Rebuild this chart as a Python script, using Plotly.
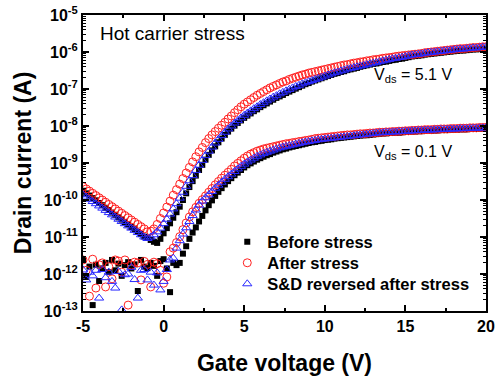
import numpy as np
import plotly.graph_objects as go

# Gate voltage sweep (V)
vg = np.round(np.arange(-5, 20.0001, 0.2), 1)

# log10 of drain current (A), Vds = 5.1 V
before_hi = [
    -9.75, -9.82, -9.88, -9.95, -10.01, -10.08, -10.14, -10.21, -10.27, -10.34,
    -10.40, -10.47, -10.53, -10.60, -10.66, -10.73, -10.79, -10.86, -10.92, -10.99,
    -11.02, -11.08, -11.13, -11.16, -11.05, -10.90, -10.76, -10.63, -10.48, -10.33,
    -10.18, -10.00, -9.82, -9.65, -9.49, -9.34, -9.19, -9.05, -8.91, -8.78,
    -8.66, -8.55, -8.44, -8.34, -8.24, -8.15, -8.07, -7.99, -7.92, -7.85,
    -7.78, -7.72, -7.66, -7.60, -7.55, -7.49, -7.44, -7.39, -7.34, -7.29,
    -7.24, -7.20, -7.16, -7.11, -7.07, -7.03, -6.99, -6.95, -6.91, -6.87,
    -6.84, -6.80, -6.77, -6.74, -6.71, -6.68, -6.65, -6.62, -6.59, -6.57,
    -6.54, -6.52, -6.49, -6.47, -6.45, -6.43, -6.40, -6.38, -6.36, -6.34,
    -6.32, -6.31, -6.29, -6.27, -6.26, -6.24, -6.22, -6.21, -6.19, -6.18,
    -6.16, -6.14, -6.12, -6.11, -6.10, -6.09, -6.07, -6.06, -6.05, -6.04,
    -6.03, -6.02, -6.01, -6.00, -5.99, -5.98, -5.97, -5.96, -5.96, -5.95,
    -5.94, -5.93, -5.93, -5.92, -5.91, -5.91]
after_hi = [
    -9.64, -9.70, -9.76, -9.82, -9.88, -9.94, -10.00, -10.06, -10.12, -10.18,
    -10.24, -10.30, -10.36, -10.42, -10.48, -10.54, -10.60, -10.66, -10.72, -10.78,
    -10.86, -10.84, -10.78, -10.66, -10.50, -10.35, -10.19, -10.03, -9.87, -9.72,
    -9.57, -9.42, -9.27, -9.12, -8.97, -8.83, -8.70, -8.58, -8.45, -8.34,
    -8.24, -8.15, -8.06, -7.98, -7.90, -7.81, -7.73, -7.64, -7.56, -7.48,
    -7.41, -7.35, -7.29, -7.23, -7.17, -7.12, -7.07, -7.02, -6.97, -6.93,
    -6.89, -6.85, -6.81, -6.78, -6.74, -6.71, -6.68, -6.65, -6.62, -6.60,
    -6.57, -6.55, -6.53, -6.51, -6.49, -6.47, -6.45, -6.43, -6.41, -6.39,
    -6.37, -6.35, -6.34, -6.32, -6.30, -6.29, -6.27, -6.26, -6.24, -6.23,
    -6.21, -6.20, -6.19, -6.17, -6.16, -6.15, -6.14, -6.12, -6.11, -6.10,
    -6.09, -6.08, -6.07, -6.06, -6.05, -6.04, -6.02, -6.01, -6.00, -5.99,
    -5.98, -5.97, -5.96, -5.95, -5.94, -5.93, -5.92, -5.91, -5.91, -5.90,
    -5.89, -5.88, -5.88, -5.87, -5.86, -5.86]
reversed_hi = [
    -9.86, -9.92, -9.98, -10.04, -10.10, -10.16, -10.22, -10.28, -10.34, -10.40,
    -10.46, -10.52, -10.58, -10.64, -10.70, -10.76, -10.82, -10.88, -10.94, -11.00,
    -11.04, -11.00, -10.94, -10.86, -10.76, -10.64, -10.52, -10.38, -10.24, -10.10,
    -9.95, -9.79, -9.63, -9.48, -9.34, -9.20, -9.06, -8.93, -8.80, -8.68,
    -8.57, -8.46, -8.36, -8.26, -8.17, -8.08, -8.00, -7.92, -7.85, -7.78,
    -7.71, -7.65, -7.59, -7.53, -7.48, -7.42, -7.37, -7.32, -7.27, -7.22,
    -7.18, -7.13, -7.09, -7.05, -7.01, -6.97, -6.93, -6.90, -6.86, -6.83,
    -6.80, -6.77, -6.74, -6.71, -6.68, -6.65, -6.62, -6.59, -6.56, -6.54,
    -6.51, -6.49, -6.46, -6.44, -6.42, -6.40, -6.38, -6.36, -6.34, -6.32,
    -6.30, -6.28, -6.26, -6.24, -6.22, -6.20, -6.18, -6.17, -6.15, -6.14,
    -6.12, -6.10, -6.08, -6.07, -6.06, -6.05, -6.03, -6.02, -6.01, -6.00,
    -5.99, -5.98, -5.97, -5.96, -5.95, -5.94, -5.93, -5.92, -5.92, -5.91,
    -5.90, -5.89, -5.89, -5.88, -5.87, -5.87]

# log10 of drain current (A), Vds = 0.1 V
before_lo = [
    -11.62, -12.08, -11.80, -12.84, -11.75, -12.19, -11.85, -11.70, -11.95, -11.62,
    -11.90, -11.72, -12.05, -11.76, -11.68, -11.85, -11.74, -12.46, -11.62, -11.80,
    -11.84, -11.70, -11.78, -12.05, -11.65, -11.60, -11.85, -12.49, -11.70, -11.76,
    -11.70, -11.45, -11.25, -11.05, -10.88, -10.74, -10.58, -10.43, -10.28, -10.14,
    -10.01, -9.89, -9.78, -9.68, -9.58, -9.49, -9.41, -9.33, -9.26, -9.19,
    -9.12, -9.06, -9.01, -8.96, -8.91, -8.87, -8.83, -8.79, -8.76, -8.72,
    -8.69, -8.66, -8.63, -8.61, -8.58, -8.56, -8.54, -8.52, -8.50, -8.48,
    -8.46, -8.44, -8.43, -8.41, -8.40, -8.38, -8.37, -8.36, -8.34, -8.33,
    -8.32, -8.31, -8.30, -8.29, -8.28, -8.27, -8.26, -8.25, -8.25, -8.24,
    -8.23, -8.22, -8.21, -8.20, -8.20, -8.19, -8.19, -8.18, -8.18, -8.17,
    -8.16, -8.16, -8.15, -8.15, -8.14, -8.14, -8.13, -8.13, -8.13, -8.12,
    -8.12, -8.11, -8.11, -8.11, -8.10, -8.10, -8.10, -8.09, -8.09, -8.09,
    -8.08, -8.08, -8.08, -8.07, -8.07, -8.07]
after_lo = [
    -11.62, -11.90, -12.60, -11.60, -12.38, -11.75, -11.70, -12.35, -11.80, -12.13,
    -11.62, -11.65, -11.95, -11.62, -12.84, -11.76, -11.68, -11.70, -12.16, -11.66,
    -11.74, -12.35, -11.68, -11.72, -11.90, -12.25, -12.08, -11.40, -11.30, -11.15,
    -10.99, -10.80, -10.62, -10.46, -10.32, -10.20, -10.09, -9.99, -9.89, -9.79,
    -9.69, -9.59, -9.50, -9.41, -9.33, -9.25, -9.17, -9.08, -9.01, -8.94,
    -8.87, -8.81, -8.76, -8.72, -8.68, -8.65, -8.62, -8.60, -8.58, -8.56,
    -8.54, -8.52, -8.50, -8.48, -8.47, -8.45, -8.44, -8.42, -8.41, -8.39,
    -8.38, -8.36, -8.34, -8.33, -8.32, -8.31, -8.30, -8.29, -8.28, -8.27,
    -8.26, -8.25, -8.24, -8.24, -8.23, -8.22, -8.21, -8.21, -8.20, -8.19,
    -8.19, -8.18, -8.17, -8.17, -8.16, -8.16, -8.15, -8.15, -8.14, -8.14,
    -8.13, -8.13, -8.12, -8.12, -8.11, -8.11, -8.10, -8.10, -8.10, -8.09,
    -8.09, -8.08, -8.08, -8.08, -8.07, -8.07, -8.07, -8.06, -8.06, -8.06,
    -8.05, -8.05, -8.05, -8.04, -8.04, -8.04]
reversed_lo = [
    -11.89, -12.16, -11.95, -12.05, -11.90, -12.65, -11.88, -12.10, -11.95, -12.20,
    -12.38, -11.93, -12.97, -12.02, -12.00, -11.82, -12.15, -12.65, -11.90, -11.88,
    -12.16, -11.95, -12.30, -11.97, -12.43, -12.20, -11.88, -11.62, -11.57, -11.30,
    -11.10, -10.92, -10.75, -10.58, -10.42, -10.27, -10.14, -10.03, -9.94, -9.86,
    -9.77, -9.68, -9.60, -9.52, -9.44, -9.37, -9.30, -9.23, -9.16, -9.09,
    -9.03, -8.97, -8.92, -8.87, -8.82, -8.78, -8.74, -8.71, -8.68, -8.65,
    -8.62, -8.59, -8.57, -8.55, -8.53, -8.51, -8.49, -8.47, -8.45, -8.43,
    -8.42, -8.40, -8.39, -8.37, -8.36, -8.35, -8.34, -8.33, -8.32, -8.31,
    -8.30, -8.29, -8.28, -8.27, -8.26, -8.25, -8.24, -8.23, -8.22, -8.21,
    -8.20, -8.19, -8.18, -8.18, -8.17, -8.17, -8.16, -8.16, -8.15, -8.15,
    -8.14, -8.14, -8.13, -8.13, -8.12, -8.12, -8.11, -8.11, -8.11, -8.10,
    -8.10, -8.09, -8.09, -8.09, -8.08, -8.08, -8.08, -8.07, -8.07, -8.07,
    -8.06, -8.06, -8.06, -8.05, -8.05, -8.05]

series_names = ["Before stress", "After stress", "S&D reversed after stress"]
y_ticks_exp = list(range(-13, -4))
x_ticks = [-5, 0, 5, 10, 15, 20]

FONT = "Liberation Sans, Arial, sans-serif"


def both(hi, lo):
    n = len(vg)
    xs = list(vg[:len(hi)]) + list(vg[:len(lo)])
    ys = [10 ** v for v in hi[:n]] + [10 ** v for v in lo[:n]]
    return xs, ys


fig = go.Figure()
styles = [
    dict(symbol="square", size=6, color="black", line=dict(width=0)),
    dict(symbol="circle-open", size=8, color="#ff2020", line=dict(width=1, color="#ff2020")),
    dict(symbol="triangle-up-open", size=8, color="#2828ff", line=dict(width=1, color="#2828ff")),
]
legend_ids = ["legend", "legend2", "legend3"]
for name, (hi, lo), st, lg in zip(series_names,
                                 [(before_hi, before_lo), (after_hi, after_lo), (reversed_hi, reversed_lo)],
                                 styles, legend_ids):
    xs, ys = both(hi, lo)
    fig.add_trace(go.Scatter(x=xs, y=ys, mode="markers", name=name, marker=st, legend=lg))

leg_font = dict(family=FONT, size=16.5, weight="bold", color="black")
leg_common = dict(x=0.358, xanchor="left", yanchor="middle", bgcolor="rgba(0,0,0,0)",
                  borderwidth=0, font=leg_font)

fig.update_layout(
    width=495, height=376,
    margin=dict(l=83, r=9, t=15, b=65),
    paper_bgcolor="white", plot_bgcolor="white",
    font=dict(family=FONT, color="black"),
    showlegend=True,
    legend=dict(y=0.233, **leg_common),
    legend2=dict(y=0.162, **leg_common),
    legend3=dict(y=0.091, **leg_common),
)

fig.update_xaxes(
    range=[-5, 20], showgrid=False, zeroline=False, automargin=False,
    showline=True, linewidth=2, linecolor="black", mirror="allticks",
    ticks="inside", ticklen=6, tickwidth=1.5, tickcolor="black",
    tickvals=x_ticks, ticktext=[str(v) for v in x_ticks],
    tickfont=dict(family=FONT, size=16, weight="bold"),
    minor=dict(tickvals=[-2.5, 2.5, 7.5, 12.5, 17.5], ticks="inside", ticklen=3,
               tickwidth=1.5, tickcolor="black", showgrid=False),
    title=dict(text="Gate voltage (V)", font=dict(family=FONT, size=23, weight="bold"), standoff=22),
)

minor_y = [k * 10.0 ** e for e in range(-13, -5) for k in range(2, 10)]
fig.update_yaxes(
    type="log", range=[-13, -5], showgrid=False, zeroline=False, automargin=False,
    showline=True, linewidth=2, linecolor="black", mirror="allticks",
    ticks="inside", ticklen=6, tickwidth=1.5, tickcolor="black",
    tickvals=[10.0 ** e for e in y_ticks_exp],
    ticktext=["10<sup>%d</sup>" % e for e in y_ticks_exp],
    tickfont=dict(family=FONT, size=16, weight="bold"),
    minor=dict(tickvals=minor_y, ticks="inside", ticklen=3, tickwidth=1,
               tickcolor="black", showgrid=False),
    title=dict(text="Drain current (A)", font=dict(family=FONT, size=23, weight="bold"), standoff=6),
)

fig.add_annotation(text="Hot carrier stress", xref="paper", yref="paper", x=0.037, y=0.939,
                   xanchor="left", yanchor="middle", showarrow=False,
                   font=dict(family=FONT, size=19, color="black"))
fig.add_annotation(text="V<sub>ds</sub> = 5.1 V", xref="paper", yref="paper", x=0.818, y=0.797,
                   xanchor="center", yanchor="middle", showarrow=False,
                   font=dict(family=FONT, size=16, color="black"))
fig.add_annotation(text="V<sub>ds</sub> = 0.1 V", xref="paper", yref="paper", x=0.818, y=0.535,
                   xanchor="center", yanchor="middle", showarrow=False,
                   font=dict(family=FONT, size=16, color="black"))

fig.write_html("out.html")
